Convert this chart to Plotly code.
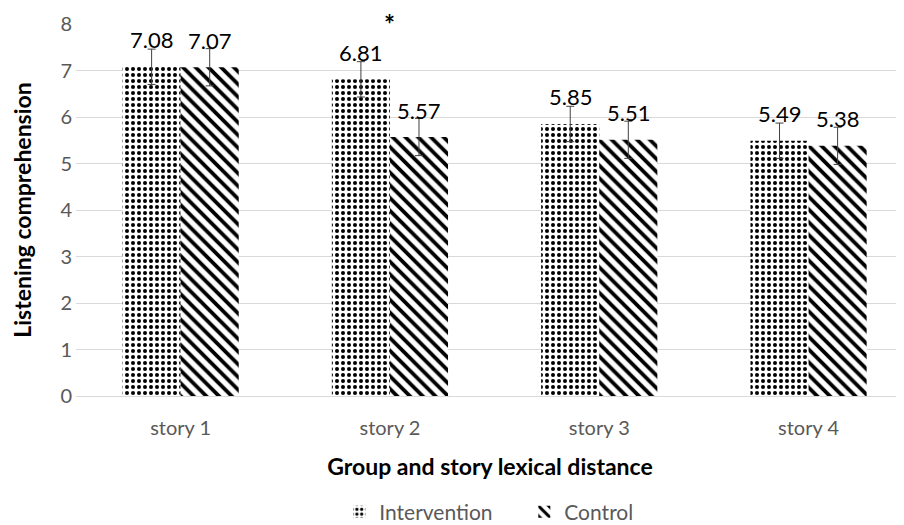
import plotly.graph_objects as go

categories = ["story 1", "story 2", "story 3", "story 4"]
intervention = [7.08, 6.81, 5.85, 5.49]
control = [7.07, 5.57, 5.51, 5.38]
intervention_err = [0.38, 0.38, 0.38, 0.38]
control_err = [0.40, 0.40, 0.40, 0.40]

FONT = "Lato"
GRAY = "#595959"

fig = go.Figure()
fig.add_trace(go.Bar(
    name="Intervention", x=categories, y=intervention,
    marker=dict(color="white", line=dict(width=0),
                pattern=dict(shape=".", size=6, solidity=0.35, fgcolor="black", fgopacity=1,
                             bgcolor="white", fillmode="overlay")),
    error_y=dict(type="data", array=intervention_err, color="#404040", thickness=1, width=4),
))
fig.add_trace(go.Bar(
    name="Control", x=categories, y=control,
    marker=dict(color="white", line=dict(width=0),
                pattern=dict(shape="\\", size=9, solidity=0.42, fgcolor="black", fgopacity=1,
                             bgcolor="white", fillmode="overlay")),
    error_y=dict(type="data", array=control_err, color="#404040", thickness=1, width=4),
))

annotations = []
for i, c in enumerate(categories):
    annotations.append(dict(x=c, y=intervention[i], xref="x", yref="y", text=f"{intervention[i]:.2f}",
                            showarrow=False, xshift=-29, yshift=27, yanchor="middle",
                            font=dict(family=FONT, size=22, color="black")))
    annotations.append(dict(x=c, y=control[i], xref="x", yref="y", text=f"{control[i]:.2f}",
                            showarrow=False, xshift=29, yshift=27, yanchor="middle",
                            font=dict(family=FONT, size=22, color="black")))
annotations.append(dict(x="story 2", y=8, xref="x", yref="y", text="<b>*</b>", showarrow=False,
                        xshift=0, yshift=0, yanchor="middle",
                        font=dict(family=FONT, size=26, color="black")))

# the page has an 8px body margin, so the figure is drawn 8px in from the top-left
fig.update_layout(
    width=896, height=517,
    margin=dict(l=68, r=0, t=16, b=129, autoexpand=False),
    paper_bgcolor="white", plot_bgcolor="white",
    barmode="group", bargap=0.445, bargroupgap=0,
    font=dict(family=FONT, color=GRAY, size=20),
    showlegend=True,
    legend=dict(orientation="h", x=0.318, xanchor="left", xref="paper", y=-0.312, yanchor="middle",
                font=dict(family=FONT, size=21, color=GRAY), itemwidth=30, entrywidth=140,
                traceorder="normal"),
    annotations=annotations,
    xaxis=dict(range=[-0.5, 3.456], showgrid=False, showline=False, zeroline=False, automargin=False,
               tickfont=dict(family=FONT, size=20, color=GRAY), ticklabelstandoff=18,
               title=dict(text="<b>Group and story lexical distance</b>", standoff=20,
                          font=dict(family=FONT, size=23, color="black"))),
    yaxis=dict(range=[0, 8], dtick=1, showgrid=True, gridcolor="#d9d9d9", gridwidth=1, automargin=False,
               zeroline=True, zerolinecolor="#d9d9d9", zerolinewidth=1, showline=False,
               tickfont=dict(family=FONT, size=20, color=GRAY), ticklabelstandoff=3,
               title=dict(text="<b>Listening comprehension</b>", standoff=23,
                          font=dict(family=FONT, size=23, color="black"))),
)

fig.write_html("out.html")
